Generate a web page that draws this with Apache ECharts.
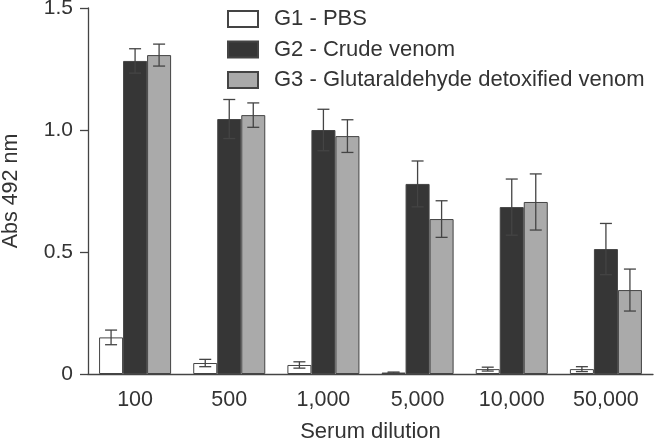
<!DOCTYPE html>
<html>
<head>
<meta charset="utf-8">
<script src="https://cdn.jsdelivr.net/npm/echarts@6/dist/echarts.min.js"></script>
<style>html,body{margin:0;padding:0;background:#fff}#c{width:654px;height:441px}</style>
</head>
<body>
<div id="c"></div>
<script>
var categories = ['100', '500', '1,000', '5,000', '10,000', '50,000'];
var seriesNames = ['G1 - PBS', 'G2 - Crude venom', 'G3 - Glutaraldehyde detoxified venom'];
var g1 = [0.150, 0.045, 0.037, 0.006, 0.020, 0.020];
var g1Err = [0.030, 0.015, 0.013, 0.002, 0.008, 0.010];
var g2 = [1.283, 1.045, 1.000, 0.779, 0.684, 0.512];
var g2Err = [0.050, 0.080, 0.085, 0.094, 0.115, 0.105];
var g3 = [1.307, 1.061, 0.975, 0.635, 0.705, 0.344];
var g3Err = [0.045, 0.050, 0.067, 0.075, 0.115, 0.086];
var yTicks = [0, 0.5, 1.0, 1.5];

var textColor = '#333';
var lineColor = '#444';
var fills = ['#ffffff', '#363636', '#aaaaaa'];
var values = [g1, g2, g3];
var errs = [g1Err, g2Err, g3Err];
var barFrac = 0.255;
var font = 'Liberation Sans, Arial, sans-serif';

var series = [];
values.forEach(function (vals, k) {
  series.push({
    name: seriesNames[k],
    type: 'bar',
    data: vals,
    barWidth: (barFrac * 100) + '%',
    barGap: '0%',
    itemStyle: { color: fills[k], borderColor: lineColor, borderWidth: 1 },
    silent: true
  });
});
values.forEach(function (vals, k) {
  series.push({
    type: 'custom',
    z: 10,
    silent: true,
    data: vals.map(function (v, i) { return [i, v, errs[k][i]]; }),
    renderItem: function (params, api) {
      var i = api.value(0), v = api.value(1), e = api.value(2);
      var bw = api.size([1, 0])[0] * barFrac;
      var c = api.coord([i, v]);
      var x = c[0] + (k - 1) * bw;
      var top = api.coord([i, v + e])[1];
      var bot = api.coord([i, v - e])[1];
      var half = 6;
      var st = { stroke: lineColor, lineWidth: 1.3 };
      return { type: 'group', children: [
        { type: 'line', shape: { x1: x, y1: top, x2: x, y2: bot }, style: st },
        { type: 'line', shape: { x1: x - half, y1: top, x2: x + half, y2: top }, style: st },
        { type: 'line', shape: { x1: x - half, y1: bot, x2: x + half, y2: bot }, style: st }
      ]};
    }
  });
});

var chart = echarts.init(document.getElementById('c'), null, { renderer: 'canvas' });
chart.setOption({
  animation: false,
  backgroundColor: '#fff',
  textStyle: { fontFamily: font },
  grid: { left: 88, right: 1, top: 8, bottom: 67, containLabel: false, outerBoundsMode: 'none' },
  legend: {
    orient: 'vertical',
    left: 227, top: 8, padding: 0,
    icon: 'rect',
    itemWidth: 30, itemHeight: 16, itemGap: 8.5,
    data: seriesNames,
    textStyle: { fontSize: 22, lineHeight: 16, color: textColor, fontFamily: font, padding: [0, 0, 0, 11] },
    selectedMode: false
  },
  xAxis: {
    type: 'category',
    data: categories,
    name: 'Serum dilution',
    nameLocation: 'middle',
    nameGap: 47,
    nameTextStyle: { fontSize: 22, color: textColor },
    axisLine: { lineStyle: { color: lineColor, width: 1.3 } },
    axisTick: { length: 9, lineStyle: { color: lineColor, width: 1.3 } },
    axisLabel: { fontSize: 21.5, color: textColor, margin: 15 }
  },
  yAxis: {
    type: 'value',
    min: 0, max: 1.5, interval: 0.5,
    name: 'Abs 492 nm',
    nameLocation: 'middle',
    nameGap: 66,
    nameTextStyle: { fontSize: 21.5, color: textColor },
    axisLine: { show: true, lineStyle: { color: lineColor, width: 1.3 } },
    axisTick: { show: true, length: 8, lineStyle: { color: lineColor, width: 1.3 } },
    splitLine: { show: false },
    axisLabel: { fontSize: 21, color: textColor, margin: 15,
      formatter: function (v) { return v === 0 ? '0' : v.toFixed(1); } }
  },
  series: series
});
</script>
</body>
</html>
